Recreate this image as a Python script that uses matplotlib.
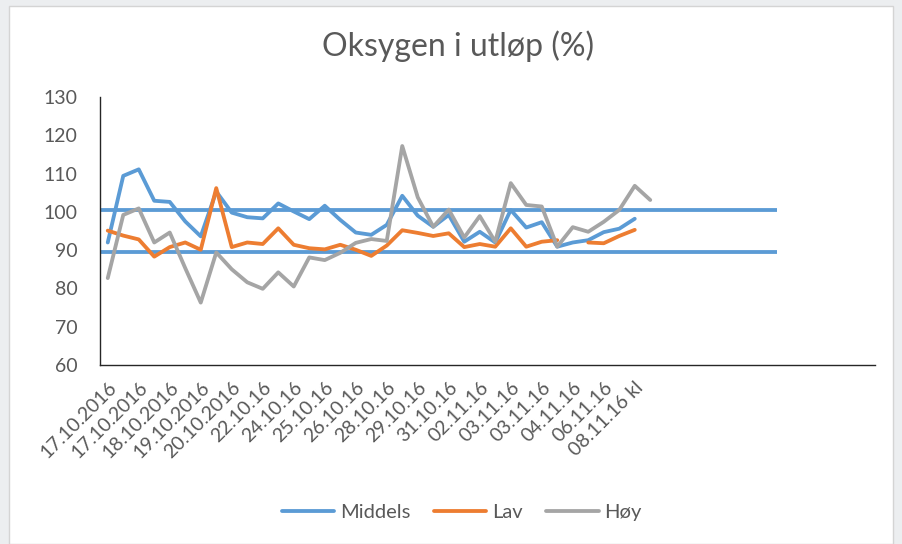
import numpy as np
import matplotlib
matplotlib.use("Agg")
import matplotlib.pyplot as plt
from matplotlib.patches import Rectangle

plt.rcParams['font.family'] = ['Lato', 'DejaVu Sans']

nan = np.nan
n_categories = 50

labels = ['17.10.2016', '17.10.2016', '18.10.2016', '19.10.2016', '20.10.2016',
          '22.10.16', '24.10.16', '25.10.16', '26.10.16', '28.10.16', '29.10.16',
          '31.10.16', '02.11.16', '03.11.16', '03.11.16', '04.11.16', '06.11.16',
          '08.11.16 kl']

middels = [92.0, 109.4, 111.1, 102.9, 102.6, 97.5, 93.6, 105.3, 99.8, 98.6,
           98.3, 102.2, 100.1, 98.1, 101.6, 97.9, 94.6, 94.0, 96.6, 104.2,
           99.0, 96.1, 99.2, 92.2, 94.8, 92.0, 100.5, 95.9, 97.3, 90.9,
           92.0, 92.6, 94.7, 95.6, 98.2]
lav = [95.1, 93.8, 92.8, 88.3, 90.8, 92.0, 90.1, 106.2, 90.8, 92.0,
       91.6, 95.7, 91.4, 90.5, 90.2, 91.4, 90.1, 88.5, 91.2, 95.2,
       94.5, 93.7, 94.4, 90.8, 91.6, 90.9, 95.7, 90.9, 92.2, 92.6,
       nan, 92.0, 91.8, 93.7, 95.3]
hoy = [82.7, 99.2, 100.9, 92.0, 94.6, 85.3, 76.3, 89.4, 85.0, 81.6,
       79.9, 84.2, 80.5, 88.1, 87.4, 89.3, 91.9, 92.9, 92.4, 117.2,
       103.8, 96.1, 100.6, 93.3, 98.9, 92.2, 107.5, 101.8, 101.4, 90.9,
       96.0, 94.8, 97.4, 100.5, 106.8, 103.1]

grense_hoy = 100.6
grense_lav = 89.6

fig = plt.figure(figsize=(9.02, 5.44), dpi=100)
fig.patch.set_facecolor('#eceef0')
fig.patches.append(Rectangle((9 / 902, 0), 884 / 902, 1 - 6 / 544, transform=fig.transFigure,
                             facecolor='white', edgecolor='#d4d4d4', linewidth=1, zorder=-5))

ax = fig.add_axes([100 / 902, 1 - 365 / 544, 775 / 902, 268 / 544])
ax.set_facecolor('none')
ax.set_zorder(2)

lw = 2.75
ax.hlines([grense_hoy, grense_lav], -0.5, 43.2, colors='#5b9bd5', linewidth=lw, zorder=1)

ax.plot(np.arange(len(middels)), middels, color='#5b9bd5', linewidth=lw, label='Middels',
        solid_capstyle='round', solid_joinstyle='round', zorder=2)
ax.plot(np.arange(len(lav)), lav, color='#ed7d31', linewidth=lw, label='Lav',
        solid_capstyle='round', solid_joinstyle='round', zorder=3)
ax.plot(np.arange(len(hoy)), hoy, color='#a5a5a5', linewidth=lw, label='Høy',
        solid_capstyle='round', solid_joinstyle='round', zorder=4)

ax.set_xlim(-0.5, n_categories - 0.5)
ax.set_ylim(60, 130)
ax.set_yticks(range(60, 131, 10))
ax.set_xticks(range(0, 2 * len(labels), 2))
ax.set_xticklabels(labels, rotation=45, ha='right', rotation_mode='anchor')

for s in ['top', 'right']:
    ax.spines[s].set_visible(False)
for s in ['left', 'bottom']:
    ax.spines[s].set_color('#262626')
    ax.spines[s].set_linewidth(1)
ax.tick_params(length=0, labelcolor='#595959', labelsize=14)
ax.tick_params(axis='y', pad=16)
ax.tick_params(axis='x', pad=10)

fig.text(458 / 902, 1 - 46 / 544, 'Oksygen i utløp (%)', ha='center', va='center',
         fontsize=23, color='#595959')

fig.legend(loc='center', bbox_to_anchor=(462 / 902, 1 - 512 / 544), ncol=3, frameon=False,
           fontsize=14.5, labelcolor='#595959', handlelength=2.6, handletextpad=0.3,
           columnspacing=1.15)

fig.savefig('out.png', dpi=100)
